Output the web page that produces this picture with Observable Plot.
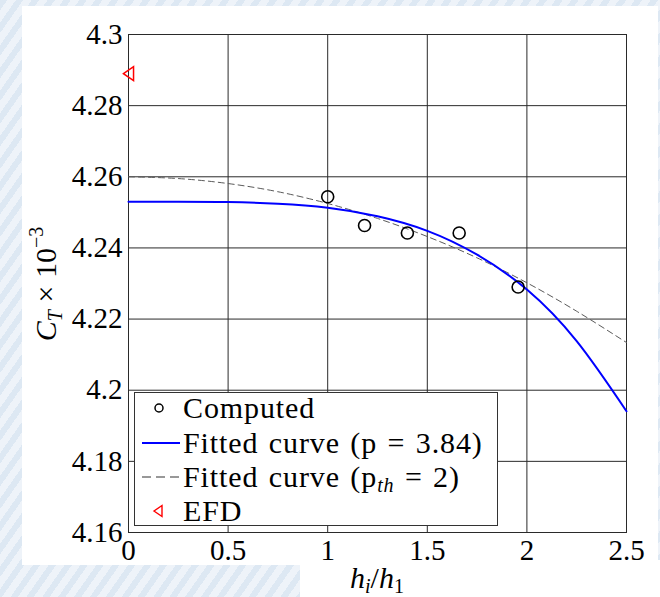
<!DOCTYPE html>
<html>
<head>
<meta charset="utf-8">
<script src="https://cdn.jsdelivr.net/npm/d3@7"></script>
<script src="https://cdn.jsdelivr.net/npm/@observablehq/plot@0.6"></script>
<style>
  html, body { margin: 0; padding: 0; }
  body {
    width: 660px; height: 597px; position: relative; overflow: hidden;
    background: repeating-linear-gradient(125deg, #dde8f3 0 6px, #eef3f9 6px 13px);
  }
  #paper  { position: absolute; left: 22px; top: 6px; width: 636px; height: 559px; background: #fff; }
  #paper2 { position: absolute; left: 300px; top: 560px; width: 360px; height: 37px; background: #fff; }
  #chart  { position: absolute; left: 0; top: 0; }
</style>
</head>
<body>
<div id="paper"></div>
<div id="paper2"></div>
<div id="chart"></div>
<script>
// Axis ticks
const xTicks = [0, 0.5, 1, 1.5, 2, 2.5];
const yTicks = [4.16, 4.18, 4.2, 4.22, 4.24, 4.26, 4.28, 4.3];

// Computed thrust coefficients (C_T x 10^-3) against grid ratio h_i/h_1
const computedX = [1.0, 1.185, 1.40, 1.66, 1.956];
const computedY = [4.2544, 4.2463, 4.2442, 4.2442, 4.2290];

// Experimental value
const efdX = [0];
const efdY = [4.289];

// Fitted curves sampled along h_i/h_1
const fitX     = [0, 0.25, 0.5, 0.75, 1.0, 1.25, 1.5, 1.75, 2.0, 2.25, 2.5];
const fitP384  = [4.2530, 4.2530, 4.2529, 4.2524, 4.2513, 4.2489, 4.2448, 4.2381, 4.2283, 4.2138, 4.1941];
const fitPth2  = [4.2600, 4.2595, 4.2581, 4.2558, 4.2525, 4.2483, 4.2432, 4.2372, 4.2302, 4.2222, 4.2134];

// Legend entries
const legendLabels = ["Computed", "Fitted curve (p = 3.84)", "Fitted curve (p", "EFD"];

const computed = computedX.map((x, i) => ({x, y: computedY[i]}));
const efd = efdX.map((x, i) => ({x, y: efdY[i]}));
const fitA = fitX.map((x, i) => ({x, y: fitP384[i]}));
const fitB = fitX.map((x, i) => ({x, y: fitPth2[i]}));

// Left-pointing triangle marker
const triangleLeft = {
  draw(context, size) {
    const r = Math.sqrt(size / Math.PI);
    context.moveTo(-0.72 * r, 0);
    context.lineTo(0.72 * r, -r);
    context.lineTo(0.72 * r, r);
    context.closePath();
  }
};

const FONT = "'Liberation Serif', 'Times New Roman', serif";
const gridColor = "#2a2a2a";

const plot = Plot.plot({
  width: 660,
  height: 597,
  marginLeft: 128,
  marginRight: 34,
  marginTop: 34,
  marginBottom: 65,
  style: { background: "transparent", fontFamily: FONT, fontSize: "29px", color: "#000", overflow: "visible" },
  x: { domain: [0, 2.5], label: null },
  y: { domain: [4.16, 4.3], label: null },
  marks: [
    Plot.gridX(xTicks, { stroke: gridColor, strokeOpacity: 1, strokeWidth: 1 }),
    Plot.gridY(yTicks, { stroke: gridColor, strokeOpacity: 1, strokeWidth: 1 }),
    Plot.frame({ stroke: gridColor, strokeWidth: 1 }),
    Plot.axisX(xTicks, { tickSize: 0, tickPadding: 7, fontSize: 29, tickFormat: d => String(d), label: null }),
    Plot.axisY(yTicks, { tickSize: 0, tickPadding: 6, fontSize: 29, tickFormat: d => String(+d.toFixed(2)), label: null }),
    Plot.line(fitB, { x: "x", y: "y", stroke: "#5a5a5a", strokeWidth: 1, strokeDasharray: "6,4", curve: "natural" }),
    Plot.line(fitA, { x: "x", y: "y", stroke: "#0000ff", strokeWidth: 2, curve: "natural" }),
    Plot.dot(computed, { x: "x", y: "y", r: 6, stroke: "#000", strokeWidth: 1.6, fill: "none" }),
    Plot.dot(efd, { x: "x", y: "y", r: 7, symbol: triangleLeft, stroke: "#ff0000", strokeWidth: 1.5, fill: "none", clip: false })
  ]
});

document.getElementById("chart").appendChild(plot);

const svg = d3.select(plot);

// Axis titles with sub/superscripts
const yl = svg.append("text")
  .attr("transform", "translate(56,284) rotate(-90)")
  .attr("text-anchor", "middle")
  .attr("font-family", FONT).attr("font-size", 30).attr("fill", "#000");
yl.append("tspan").attr("font-style", "italic").text("C");
yl.append("tspan").attr("font-style", "italic").attr("font-size", 20).attr("dy", 6).text("T");
yl.append("tspan").attr("dy", -6).text(" × 10");
yl.append("tspan").attr("font-size", 20).attr("dy", -13).text("−3");

const xl = svg.append("text")
  .attr("x", 377).attr("y", 588)
  .attr("text-anchor", "middle")
  .attr("font-family", FONT).attr("font-size", 30).attr("fill", "#000");
xl.append("tspan").attr("font-style", "italic").text("h");
xl.append("tspan").attr("font-style", "italic").attr("font-size", 20).attr("dy", 5).text("i");
xl.append("tspan").attr("dy", -5).text("/");
xl.append("tspan").attr("font-style", "italic").text("h");
xl.append("tspan").attr("font-size", 20).attr("dy", 5).text("1");

// Legend box
const lg = svg.append("g").attr("font-family", FONT).attr("font-size", 30).attr("fill", "#000")
  .attr("text-anchor", "start");
lg.append("rect").attr("x", 134.5).attr("y", 392.5).attr("width", 363).attr("height", 133)
  .attr("fill", "#fff").attr("stroke", "#333").attr("stroke-width", 1);

const rowY = [408, 443, 477, 511];
const textX = 183;
const baseOff = 10;

lg.append("circle").attr("cx", 159).attr("cy", rowY[0]).attr("r", 4)
  .attr("fill", "none").attr("stroke", "#000").attr("stroke-width", 1.5);
lg.append("line").attr("x1", 142).attr("x2", 180).attr("y1", rowY[1]).attr("y2", rowY[1])
  .attr("stroke", "#0000ff").attr("stroke-width", 2);
lg.append("line").attr("x1", 142).attr("x2", 180).attr("y1", rowY[2]).attr("y2", rowY[2])
  .attr("stroke", "#333").attr("stroke-width", 1.2).attr("stroke-dasharray", "9,5");
lg.append("path").attr("d", `M${154},${rowY[3]} L${162},${rowY[3] - 5.5} L${162},${rowY[3] + 5.5} Z`)
  .attr("fill", "none").attr("stroke", "#ff0000").attr("stroke-width", 1.4);

const addText = (y) => lg.append("text").attr("x", textX).attr("y", y + baseOff)
  .attr("text-anchor", "start").attr("letter-spacing", 0.9).attr("word-spacing", 2);
addText(rowY[0]).text(legendLabels[0]);
addText(rowY[1]).text(legendLabels[1]);
const t3 = addText(rowY[2]);
t3.append("tspan").text(legendLabels[2]);
t3.append("tspan").attr("font-style", "italic").attr("font-size", 20).attr("dy", 5).text("th");
t3.append("tspan").attr("dy", -5).text(" = 2)");
addText(rowY[3]).text(legendLabels[3]);
</script>
</body>
</html>
